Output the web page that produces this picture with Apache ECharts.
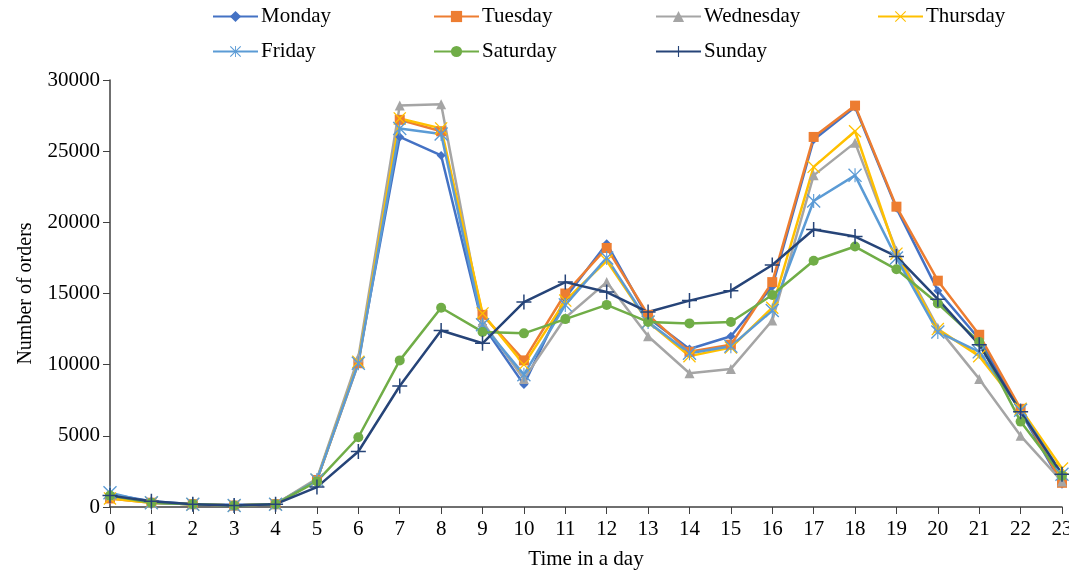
<!DOCTYPE html>
<html><head><meta charset="utf-8">
<script src="https://cdn.jsdelivr.net/npm/echarts@6/dist/echarts.min.js"></script>
<style>html,body{margin:0;padding:0;background:#fff}#c{width:1069px;height:572px}</style>
</head><body><div id="c"></div>
<script>
const hours = ['0','1','2','3','4','5','6','7','8','9','10','11','12','13','14','15','16','17','18','19','20','21','22','23'];
const monday    = [900,400,200,150,200,1900,10300,26000,24700,12800,8600,14700,18500,13300,11100,12000,15500,25800,28100,21000,15200,11800,6700,1600];
const tuesday   = [600,300,200,100,200,1900,10100,27200,26400,13500,10300,15000,18200,13500,10900,11400,15800,26000,28200,21100,15900,12100,6900,1700];
const wednesday = [800,300,200,100,200,2000,10500,28200,28300,13000,9000,13300,15800,12000,9400,9700,13100,23300,25600,18000,12600,9000,5000,1800];
const thursday  = [600,300,200,100,200,1900,10200,27300,26600,13600,10000,14500,17300,13000,10600,11200,14000,23900,26400,17800,12500,10600,6900,2700];
const friday    = [1000,300,200,100,200,1900,10100,26600,26200,12800,9300,14200,17500,13000,10800,11300,13800,21500,23300,17500,12300,10900,6800,2300];
const saturday  = [800,300,200,100,200,1800,4900,10300,14000,12300,12200,13200,14200,13000,12900,13000,14900,17300,18300,16700,14300,11600,6000,2200];
const sunday    = [800,400,200,100,200,1400,3900,8500,12400,11500,14400,15800,15100,13700,14500,15200,17000,19500,19000,17600,14600,11400,6700,2300];
const yTicks = [0,5000,10000,15000,20000,25000,30000];

const FONT = '"Liberation Serif","Times New Roman",serif';
const X_PATH = 'path://M0,0.7L0.7,0L5,4.3L9.3,0L10,0.7L5.7,5L10,9.3L9.3,10L5,5.7L0.7,10L0,9.3L4.3,5Z';
const AST_PATH = 'path://M0,0.7L0.7,0L5,4.3L9.3,0L10,0.7L5.7,5L10,9.3L9.3,10L5,5.7L0.7,10L0,9.3L4.3,5Z M4.6,0L5.4,0L5.4,4.2L4.6,4.2Z M4.6,5.8L5.4,5.8L5.4,10L4.6,10Z';
const PLUS_PATH = 'path://M4.5,0L5.5,0L5.5,4.5L10,4.5L10,5.5L5.5,5.5L5.5,10L4.5,10L4.5,5.5L0,5.5L0,4.5L4.5,4.5Z';

const defs = [
  {name:'Monday', data:monday, color:'#4472C4', symbol:'diamond', size:9},
  {name:'Tuesday', data:tuesday, color:'#ED7D31', symbol:'rect', size:10},
  {name:'Wednesday', data:wednesday, color:'#A5A5A5', symbol:'triangle', size:10},
  {name:'Thursday', data:thursday, color:'#FFC000', symbol:X_PATH, size:13},
  {name:'Friday', data:friday, color:'#5B9BD5', symbol:AST_PATH, size:14},
  {name:'Saturday', data:saturday, color:'#70AD47', symbol:'circle', size:10},
  {name:'Sunday', data:sunday, color:'#264478', symbol:PLUS_PATH, size:15}
];

const legendPos = [[212,6],[433,6],[655,6],[877,6],[212,41],[433,41],[655,41]];
const legends = defs.map((d,i)=>({
  data:[d.name], left:legendPos[i][0], top:legendPos[i][1],
  itemWidth:45, itemHeight:14, itemGap:8, padding:0,
  textStyle:{fontFamily:FONT, fontSize:21, color:'#000', padding:[0,0,0,-2]}
}));

const chart = echarts.init(document.getElementById('c'), null, {renderer:'canvas'});
chart.setOption({
  animation:false,
  backgroundColor:'#fff',
  legend: legends,
  grid:{left:110, right:7, top:80, bottom:65, containLabel:false, outerBoundsMode:'none'},
  xAxis:{
    type:'category', data:hours, boundaryGap:false,
    name:'Time in a day', nameLocation:'middle', nameGap:42,
    nameTextStyle:{fontFamily:FONT, fontSize:21, color:'#000'},
    axisLine:{lineStyle:{color:'#404040', width:1.5}},
    axisTick:{show:true, length:7, lineStyle:{color:'#404040'}, alignWithLabel:true},
    axisLabel:{fontFamily:FONT, fontSize:21, color:'#000', margin:12, interval:0},
    splitLine:{show:false}
  },
  yAxis:{
    type:'value', min:0, max:30000, interval:5000,
    name:'Number of orders', nameLocation:'middle', nameGap:74, nameRotate:90,
    nameTextStyle:{fontFamily:FONT, fontSize:20, color:'#000'},
    axisLine:{show:true, lineStyle:{color:'#404040', width:1.5}},
    axisTick:{show:true, length:7, inside:false, lineStyle:{color:'#404040'}},
    axisLabel:{fontFamily:FONT, fontSize:21, color:'#000', margin:10, formatter:(v)=>String(v)},
    splitLine:{show:false}
  },
  series: defs.map(d=>({
    name:d.name, type:'line', data:d.data,
    symbol:d.symbol, symbolSize:d.size, showSymbol:true,
    lineStyle:{color:d.color, width:2.5},
    itemStyle:{color:d.color, borderColor:d.color, borderWidth:0},
    emphasis:{disabled:true}
  }))
});
</script></body></html>
